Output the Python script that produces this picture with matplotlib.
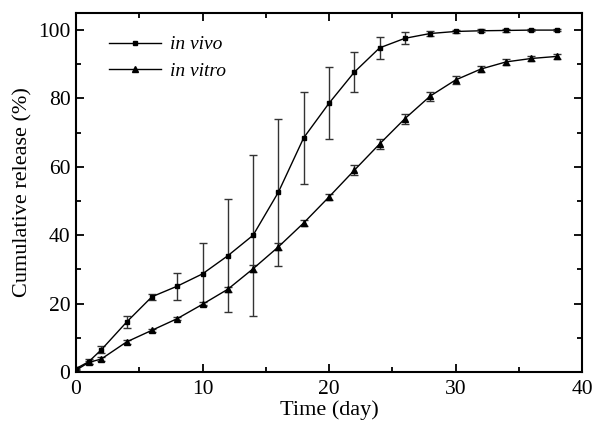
import matplotlib
matplotlib.use("Agg")
import matplotlib.pyplot as plt
from matplotlib.ticker import MultipleLocator

days = [0, 1, 2, 4, 6, 8, 10, 12, 14, 16, 18, 20, 22, 24, 26, 28, 30, 32, 34, 36, 38]
vivo = [1.0, 3.0, 6.5, 14.6, 22.0, 25.1, 28.7, 34.0, 40.0, 52.6, 68.5, 78.6, 87.7, 94.8, 97.6, 99.0, 99.6, 99.8, 99.9, 100.0, 100.0]
vivo_err = [0.5, 0.8, 1.0, 1.8, 0.8, 4.0, 9.0, 16.5, 23.5, 21.5, 13.5, 10.5, 5.8, 3.2, 1.8, 0.6, 0.4, 0.4, 0.4, 0.4, 0.4]
vitro = [0.5, 2.8, 3.8, 8.8, 12.2, 15.6, 19.8, 24.2, 30.2, 36.6, 43.6, 51.2, 59.0, 66.7, 74.1, 80.7, 85.4, 88.6, 90.7, 91.7, 92.3]
vitro_err = [0.3, 0.5, 0.5, 0.5, 0.5, 0.5, 0.6, 0.8, 1.0, 1.0, 0.8, 1.0, 1.5, 1.5, 1.5, 1.3, 1.3, 0.9, 0.9, 0.7, 0.7]

plt.rcParams['font.family'] = ['Liberation Serif', 'DejaVu Serif']

fig = plt.figure(figsize=(5.92, 4.22), dpi=100)
ax = fig.add_axes([76/592, 1 - 372/422, (582-76)/592, (372-13)/422])

ax.errorbar(days, vivo, yerr=vivo_err, color='black', ecolor='#333333', marker='s', ms=3.5,
            lw=1.0, elinewidth=1.0, capsize=3, capthick=1.0, label='in vivo')
ax.errorbar(days, vitro, yerr=vitro_err, color='black', ecolor='#333333', marker='^', ms=4,
            lw=1.0, elinewidth=1.0, capsize=3, capthick=1.0, label='in vitro')

ax.set_xlim(0, 40)
ax.set_ylim(0, 105)
ax.xaxis.set_major_locator(MultipleLocator(10))
ax.xaxis.set_minor_locator(MultipleLocator(5))
ax.yaxis.set_major_locator(MultipleLocator(20))
ax.yaxis.set_minor_locator(MultipleLocator(10))
ax.tick_params(which='both', direction='in', top=True, right=True, labelsize=15.5, width=1.3)
ax.tick_params(which='major', length=6, pad=4)
ax.tick_params(axis='x', which='major', pad=6)
ax.tick_params(which='minor', length=3.5)
for s in ax.spines.values():
    s.set_linewidth(1.5)

ax.set_xlabel('Time (day)', fontsize=16, labelpad=1)
ax.set_ylabel('Cumulative release (%)', fontsize=16, labelpad=4)

handles, labels = ax.get_legend_handles_labels()
handles = [h[0] for h in handles]
leg = ax.legend(handles, labels, loc='upper left', frameon=False,
                prop={'style': 'italic', 'size': 14}, handlelength=2.7,
                handletextpad=0.45, bbox_to_anchor=(0.03, 0.985), labelspacing=0.45)

fig.savefig('out.png', dpi=100)
